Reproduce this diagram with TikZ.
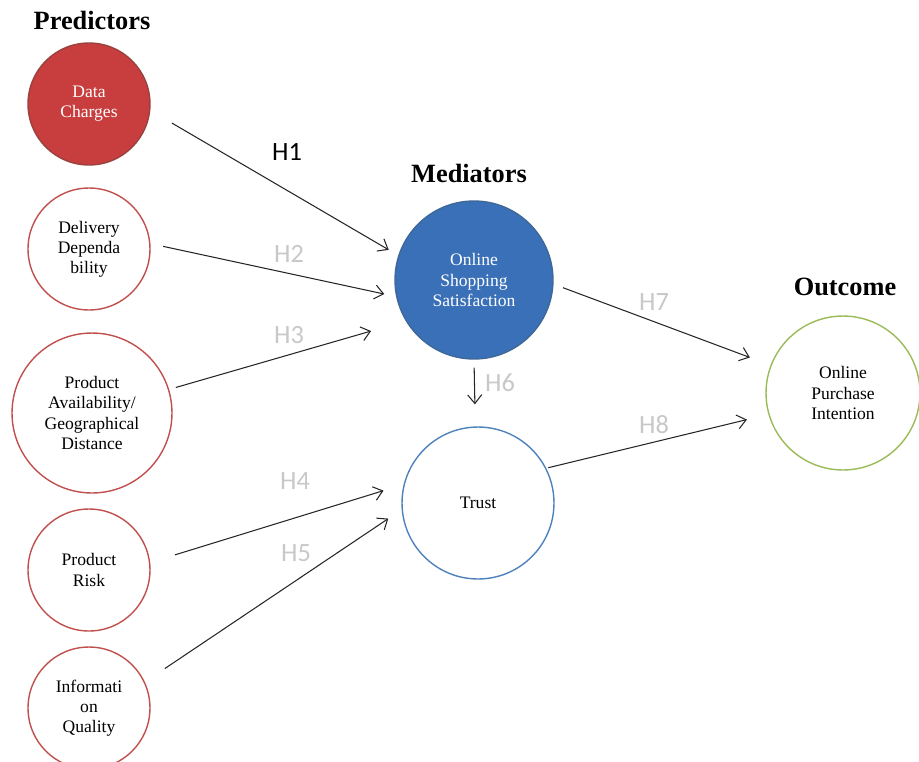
\documentclass[tikz,border=0pt]{standalone}
\usepackage{fontspec}
\setmainfont{Liberation Serif}
\newfontfamily\hypfont{Carlito}
\usetikzlibrary{arrows.meta}
\definecolor{predred}{RGB}{192,80,77}
\definecolor{predfill}{RGB}{200,62,62}
\definecolor{medblue}{RGB}{79,129,189}
\definecolor{medfill}{RGB}{58,112,184}
\definecolor{outgreen}{RGB}{155,187,89}
\definecolor{hypgray}{RGB}{200,200,200}

\begin{document}
\begin{tikzpicture}[x=0.02cm,y=-0.02cm,
  >={Straight Barb[length=5pt,width=8pt]},
  every node/.style={font=\fontsize{10}{11.5}\selectfont},
  construct/.style={circle,draw,line width=0.8pt,align=center,inner sep=0pt},
  heading/.style={font=\fontsize{15}{18}\selectfont\bfseries},
  hyp/.style={font=\hypfont\fontsize{15}{18}\selectfont,text=hypgray},
  hyparrow/.style={->,line width=0.6pt,black!85}]

  \useasboundingbox (0,0) rectangle (919,761);

  % ── headings ─────────────────────────────────────────────────────
  \node[heading] (predhead) at (92,20)  {Predictors};
  \node[heading] (medhead)  at (469,173) {Mediators};
  \node[heading] (outhead)  at (845,287) {Outcome};

  % ── predictors ───────────────────────────────────────────────────
  \node[construct,draw=predred!80!black,fill=predfill,text=white,
        minimum size=2.44cm] (dc) at (89,104) {Data\\Charges};
  \node[construct,draw=predred,minimum size=2.44cm] (dd) at (89,249)
    {Delivery\\Dependa\\bility};
  \node[construct,draw=predred,minimum size=3.2cm] (pa) at (92,413)
    {Product\\Availability/\\Geographical\\Distance};
  \node[construct,draw=predred,minimum size=2.44cm] (pr) at (89,570)
    {Product\\Risk};
  \node[construct,draw=predred,minimum size=2.44cm] (iq) at (89,708)
    {Informati\\on\\Quality};

  % ── mediators ────────────────────────────────────────────────────
  \node[construct,draw=medblue!80!black,fill=medfill,text=white,
        minimum size=3.16cm] (oss) at (474,280)
    {Online\\Shopping\\Satisfaction};
  \node[construct,draw=medblue,minimum size=3.04cm] (tr) at (478,503) {Trust};

  % ── outcome ──────────────────────────────────────────────────────
  \node[construct,draw=outgreen,minimum size=3.08cm] (opi) at (843,393)
    {Online\\Purchase\\Intention};

  % ── hypothesis arrows ────────────────────────────────────────────
  \draw[hyparrow,shorten <=0.5cm,shorten >=0.22cm] (dc.-6) -- (oss.162);
  \draw[hyparrow,shorten <=0.26cm,shorten >=0.24cm] (dd.5) -- (oss.192);
  \draw[hyparrow,shorten <=0.14cm,shorten >=0.72cm] (pa.17) -- (oss.211);
  \draw[hyparrow,shorten <=0.52cm,shorten >=0.42cm] (pr.7) -- (tr.166);
  \draw[hyparrow,shorten <=0.48cm,shorten >=0.32cm] (iq.25) -- (tr.185);
  \draw[hyparrow,shorten <=0.16cm,shorten >=0.44cm] (oss.-90) -- (tr.92);
  \draw[hyparrow,shorten <=0.2cm,shorten >=0.44cm] (oss.-3) -- (opi.159);
  \draw[hyparrow,shorten <=0.04cm,shorten >=0.44cm] (tr.27) -- (opi.196);

  % labels
  \node[hyp,text=black] (h1) at (287,152) {H1};
  \node[hyp] (h2) at (289,254) {H2};
  \node[hyp] (h3) at (289,335) {H3};
  \node[hyp] (h4) at (295,481) {H4};
  \node[hyp] (h5) at (296,553) {H5};
  \node[hyp] (h6) at (500,383) {H6};
  \node[hyp] (h7) at (654,302) {H7};
  \node[hyp] (h8) at (654,425) {H8};

\end{tikzpicture}
\end{document}
